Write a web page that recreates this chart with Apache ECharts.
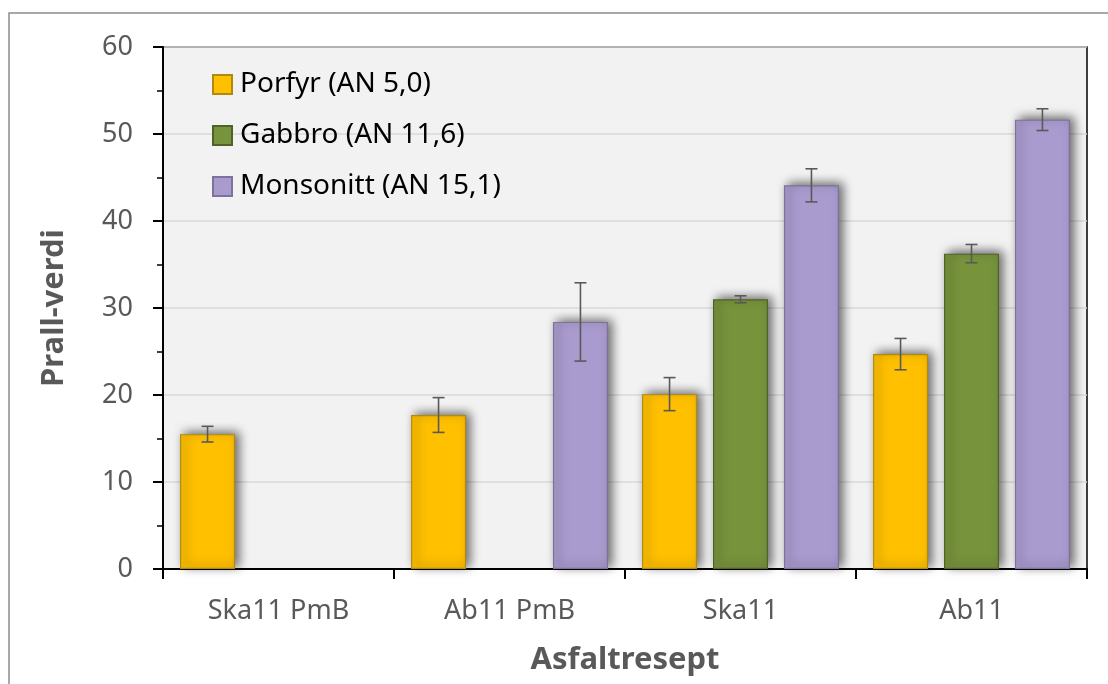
<!DOCTYPE html>
<html>
<head>
<meta charset="utf-8">
<script src="https://cdn.jsdelivr.net/npm/echarts@6/dist/echarts.min.js"></script>
<style>
  html, body { margin: 0; padding: 0; background: #fff; }
  #chart { width: 1108px; height: 684px; }
</style>
</head>
<body>
<div id="chart"></div>
<script>
// Prall values per recipe, with ± error for each aggregate
const categories = ['Ska11 PmB', 'Ab11 PmB', 'Ska11', 'Ab11'];
const seriesNames = ['Porfyr (AN 5,0)', 'Gabbro (AN 11,6)', 'Monsonitt (AN 15,1)'];
const porfyr = [15.5, 17.7, 20.1, 24.7];
const gabbro = [null, null, 31.0, 36.25];
const monsonitt = [null, 28.4, 44.1, 51.65];
const porfyrErr = [0.9, 2.0, 1.9, 1.8];
const gabbroErr = [null, null, 0.4, 1.05];
const monsonittErr = [null, 4.5, 1.9, 1.25];
const yTicks = [0, 10, 20, 30, 40, 50, 60];

const values = [porfyr, gabbro, monsonitt];
const errors = [porfyrErr, gabbroErr, monsonittErr];
const fills = ['#ffc000', '#77933c', '#a99bce'];
const edges = ['#b08a10', '#4f6228', '#7d7299'];

const BAR_W = 55;
const BAR_GAP = 0.29;
const FONT = '"Noto Sans", "Open Sans", sans-serif';

// error-bar points: [category index, low, high, series index]
const errData = [];
values.forEach((arr, k) => {
  arr.forEach((v, i) => {
    if (v != null && errors[k][i] != null) {
      errData.push([i, v - errors[k][i], v + errors[k][i], k]);
    }
  });
});

function renderErr(params, api) {
  const i = api.value(0), lo = api.value(1), hi = api.value(2), k = api.value(3);
  const off = (k - 1) * BAR_W * (1 + BAR_GAP);
  const pTop = api.coord([i, hi]);
  const pBot = api.coord([i, lo]);
  const x = pTop[0] + off;
  const cap = 6;
  const style = { stroke: '#595959', lineWidth: 1.6 };
  return {
    type: 'group',
    children: [
      { type: 'line', shape: { x1: x, y1: pTop[1], x2: x, y2: pBot[1] }, style },
      { type: 'line', shape: { x1: x - cap, y1: pTop[1], x2: x + cap, y2: pTop[1] }, style },
      { type: 'line', shape: { x1: x - cap, y1: pBot[1], x2: x + cap, y2: pBot[1] }, style }
    ]
  };
}

const barSeries = seriesNames.map((name, k) => ({
  name,
  type: 'bar',
  data: values[k],
  barWidth: BAR_W,
  barGap: (BAR_GAP * 100) + '%',
  itemStyle: {
    color: fills[k],
    borderColor: edges[k],
    borderWidth: 1.2,
    shadowBlur: 10,
    shadowColor: 'rgba(0,0,0,0.6)',
    shadowOffsetX: 4,
    shadowOffsetY: -2
  },
  emphasis: { disabled: true }
}));

const chart = echarts.init(document.getElementById('chart'), null, { renderer: 'canvas' });
chart.setOption({
  animation: false,
  backgroundColor: '#ffffff',
  textStyle: { fontFamily: FONT },
  graphic: [{
    type: 'rect',
    shape: { x: 9, y: 13, width: 1200, height: 800 },
    style: { fill: null, stroke: '#8c8c8c', lineWidth: 1.5 },
    silent: true,
    z: -10
  }],
  grid: {
    left: 163, right: 21, top: 47, bottom: 115,
    show: true,
    backgroundColor: '#f2f2f2',
    borderColor: '#000',
    borderWidth: 1.5
  },
  legend: {
    data: seriesNames,
    orient: 'vertical',
    left: 207,
    top: 65,
    itemWidth: 19,
    itemHeight: 19,
    itemGap: 22,
    icon: 'rect',
    itemStyle: { shadowBlur: 0, shadowOffsetX: 0, shadowOffsetY: 0 },
    textStyle: { fontFamily: FONT, fontSize: 28, color: '#000', lineHeight: 29, padding: [0, 0, 0, 3] }
  },
  xAxis: {
    type: 'category',
    data: categories,
    boundaryGap: true,
    name: 'Asfaltresept',
    nameLocation: 'middle',
    nameGap: 76,
    nameTextStyle: { fontFamily: FONT, fontSize: 31, fontWeight: 'bold', color: '#595959' },
    axisLine: { lineStyle: { color: '#000', width: 2 } },
    axisTick: { show: true, alignWithLabel: false, length: 10, lineStyle: { color: '#000', width: 2 } },
    axisLabel: { fontFamily: FONT, fontSize: 27, color: '#595959', margin: 29 },
    splitLine: { show: false }
  },
  yAxis: {
    type: 'value',
    min: yTicks[0],
    max: yTicks[yTicks.length - 1],
    interval: 10,
    name: 'Prall-verdi',
    nameLocation: 'middle',
    nameGap: 93,
    nameRotate: 90,
    nameTextStyle: { fontFamily: FONT, fontSize: 31, fontWeight: 'bold', color: '#595959' },
    axisLine: { show: true, lineStyle: { color: '#000', width: 2 } },
    axisTick: { show: true, length: 10, lineStyle: { color: '#000', width: 2 } },
    minorTick: { show: true, splitNumber: 2, length: 6, lineStyle: { color: '#000', width: 1.5 } },
    axisLabel: { fontFamily: FONT, fontSize: 27, color: '#595959', margin: 30 },
    splitLine: { show: true, lineStyle: { color: '#d9d9d9', width: 1.5 } }
  },
  series: [
    ...barSeries,
    {
      type: 'custom',
      name: 'err',
      renderItem: renderErr,
      data: errData,
      encode: { x: 0, y: [1, 2] },
      z: 5,
      silent: true
    }
  ]
});
</script>
</body>
</html>
